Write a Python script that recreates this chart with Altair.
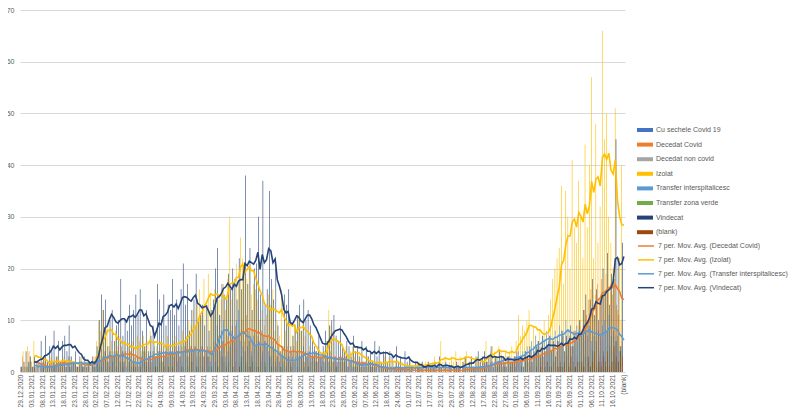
import altair as alt
import pandas as pd

# ---------------- categories ----------------
MISSING = ["15.06.2021", "21.06.2021", "27.06.2021", "29.06.2021", "03.07.2021", "04.07.2021",
           "06.07.2021", "07.07.2021", "09.07.2021", "10.07.2021", "20.07.2021", "26.07.2021",
           "31.07.2021", "02.08.2021", "07.08.2021", "09.08.2021"]
ALL_DAYS = pd.date_range("2020-12-29", "2021-10-20", freq="D").strftime("%d.%m.%Y").tolist()
DATES = [d for d in ALL_DAYS if d not in MISSING] + ["(blank)"]
TICKS = DATES[::5]

SERIES = ["Cu sechele Covid 19", "Decedat Covid", "Decedat non covid", "Izolat",
          "Transfer interspitalicesc", "Transfer zona verde", "Vindecat", "(blank)"]
COLORS = ["#4472C4", "#ED7D31", "#A5A5A5", "#FFC000", "#5B9BD5", "#70AD47", "#264478", "#9E480E"]

MA_SERIES = ["Decedat Covid", "Izolat", "Transfer interspitalicesc", "Vindecat"]
MA_NAMES = ["7 per. Mov. Avg. (Decedat Covid)", "7 per. Mov. Avg. (Izolat)",
            "7 per. Mov. Avg. (Transfer interspitalicesc)", "7 per. Mov. Avg. (Vindecat)"]
MA_COLORS = ["#ED7D31", "#FFC000", "#5B9BD5", "#264478"]
Y_TICKS = [0, 10, 20, 30, 40, 50, 60, 70]

# ---------------- daily values (index 0..279), (blank) category has none ----------------
cu_sechele = [
    0,0,1,0,0,0,0,0,1,0, 0,1,0,0,0,0,1,0,0,0, 0,0,0,1,0,0,0,0,0,1, 0,0,0,0,1,0,2,0,1,0,
    1,0,0,2,0,1,0,0,1,0, 0,2,0,1,0,0,1,0,2,0, 1,0,0,1,0,2,0,1,0,0, 0,1,0,2,0,1,0,0,1,0,
    2,0,1,0,0,1,0,3,0,1, 0,2,1,0,3,0,1,2,0,1, 2,0,1,3,0,2,1,0,2,0, 1,0,2,0,1,0,3,1,0,1,
    0,1,0,0,2,0,1,0,0,1, 0,0,1,0,1,0,0,2,0,0, 1,0,0,0,1,0,0,1,0,0, 0,1,0,0,0,0,1,0,0,0,
    0,0,0,1,0,0,0,0,0,0, 1,0,0,0,0,0,0,1,0,0, 0,0,0,0,0,1,0,0,0,0, 0,0,1,0,0,0,0,0,0,0,
    0,0,0,0,1,0,0,0,0,0, 0,1,0,0,0,0,1,0,0,0, 0,0,1,0,0,1,0,0,1,0, 1,0,0,1,0,2,0,1,0,0,
    1,0,2,0,1,0,1,0,2,1, 0,2,1,0,3,1,0,2,1,0, 2,1,3,0,2,1,4,2,1,3, 2,4,1,3,5,2,3,6,2,4,
]
decedat_covid = [
    1,3,2,1,4, 2,1,1,2,0, 1,2,1,0,2, 1,2,3,1,2, 2,1,2,3,1, 2,1,1,2,1, 1,2,1,2,2, 3,2,3,2,4,
    3,2,4,3,3, 4,3,5,2,4, 3,4,2,3,2, 1,3,2,4,2, 3,2,4,3,3, 4,2,3,5,3, 4,3,5,4,3, 5,4,6,3,5,
    4,5,3,4,5, 3,4,5,3,4, 6,5,7,4,6, 5,7,6,8,6, 9,7,8,10,6, 11,8,7,6,8, 7,6,8,7,6, 7,5,6,4,3,
    5,4,3,4,5, 3,4,5,3,4, 3,4,2,3,3, 2,3,4,2,3, 3,2,3,2,4, 2,3,2,3,2, 2,3,1,2,2, 1,2,2,1,2,
    1,1,2,1,1, 1,0,1,1,0, 1,0,1,0,1, 0,1,0,0,1, 0,0,1,0,0, 1,0,0,1,0, 0,1,0,0,1, 0,0,1,0,0,
    1,0,0,1,0, 0,1,1,0,1, 1,0,1,1,0, 2,1,2,1,2, 2,1,2,2,1, 2,3,1,2,2, 3,2,2,3,2, 3,2,4,3,3,
    4,3,5,3,4, 5,4,6,5,4, 6,5,7,4,6, 7,5,8,6,9, 10,8,12,11,14, 16,13,15,17,14, 18,15,19,16,17,
    15,18,13,11,10,
]
decedat_non_covid = [
    0,1,0,0,1,0,0,1,0,0, 1,0,0,1,0,2,0,0,1,0, 0,1,0,0,2,0,1,0,0,1, 0,0,1,0,1,2,0,1,3,0,
    2,1,0,3,1,0,2,1,4,0, 1,3,0,2,1,0,2,4,1,0, 3,1,2,0,4,1,2,0,3,1, 2,4,0,1,3,2,0,5,1,2,
    3,0,2,4,1,3,0,2,5,1, 2,4,1,3,6,2,0,4,3,1, 5,2,3,1,4,2,6,3,1,2, 4,1,3,5,2,0,3,2,1,4,
    2,1,3,0,2,4,1,2,0,3, 1,2,0,3,1,2,0,1,2,0, 2,1,0,2,1,0,3,1,0,1, 0,2,1,0,1,0,2,0,1,0,
    1,0,0,1,0,2,0,1,0,0, 0,1,0,0,1,0,0,0,1,0, 0,0,1,0,0,0,1,0,0,0, 1,0,0,0,0,1,0,0,0,1,
    0,0,1,0,0,0,1,0,0,0, 1,0,0,1,0,0,2,0,1,0, 0,1,0,2,0,1,0,0,2,1, 0,2,1,0,3,1,0,2,1,0,
    2,1,3,0,2,4,1,2,0,3, 1,3,2,0,4,2,1,5,3,2, 4,2,6,3,1,5,3,7,2,4, 6,3,5,8,2,4,7,3,5,6,
]
izolat = [
    0,4,1,5,3, 2,6,1,2,1, 2,3,1,2,3, 2,1,3,2,2, 3,1,2,2,1, 2,1,2,3,1, 1,2,2,1,3, 6,10,8,12,7,
    9,5,6,4,8, 5,7,4,6,3, 5,4,6,3,7, 6,4,7,5,6, 8,4,6,5,4, 6,5,4,7,5, 4,6,7,5,6, 8,6,7,10,9,
    12,9,14,16,11, 18,13,19,15,12, 16,13,15,14,17, 12,18,30,14,16, 21,17,26,22,19, 18,20,15,17,16,
    14,10,12,9,11, 15,13,16,8,10, 7,16,5,8,9, 10,7,9,6,11, 8,10,7,4,5, 3,2,4,5,3, 3,4,6,12,9,
    8,2,1,2,3, 4,5,3,4,5, 3,2,4,2,1, 2,3,1,2,2, 1,2,2,1,3, 2,3,1,2,2, 1,0,2,1,1, 1,2,1,0,2,
    2,1,1,2,2, 1,2,3,1,2, 6,2,3,1,2, 3,2,4,2,3, 2,3,4,2,3, 1,2,3,2,1, 2,6,3,4,5, 4,3,5,4,3,
    4,3,4,5,3, 6,11,7,9,8, 10,12,6,9,7, 5,8,6,10,7, 11,14,18,20,22, 24,36,17,35,30, 20,41,28,25,37,
    30,22,44,28,40, 57,22,48,25,32, 66,45,50,30,25, 20,51,12,22,40,
]
transfer_inter = [
    1,2,0,1,2, 1,1,2,0,1, 1,0,2,1,1, 2,1,1,2,1, 2,1,3,1,2, 2,1,2,2,1, 2,1,1,2,2, 3,4,2,3,4,
    2,4,3,3,4, 3,2,4,2,1, 2,1,2,1,3, 2,3,4,2,3, 4,3,5,3,4, 3,4,4,3,4, 4,3,4,5,3, 4,5,3,4,5,
    4,5,4,3,5, 3,4,3,2,4, 12,9,11,8,10, 3,4,5,9,6, 10,12,6,5,4, 5,6,4,7,5, 6,5,4,6,5, 4,3,5,2,3,
    2,3,2,1,3, 2,3,2,4,3, 3,5,4,3,4, 3,4,2,4,3, 3,2,3,2,3, 2,3,2,2,3, 2,3,1,2,1, 1,1,2,1,2,
    2,1,2,1,1, 1,1,0,1,1, 1,0,1,1,1, 1,1,0,1,1, 1,1,1,0,1, 1,1,1,1,1, 1,0,1,1,1, 1,1,1,0,1,
    1,1,1,1,1, 1,1,0,1,1, 1,1,1,1,1, 1,2,1,2,2, 2,3,2,2,3, 2,3,3,2,3, 3,4,3,4,4, 5,4,6,5,7,
    6,5,7,6,8, 6,7,5,8,7, 9,8,7,10,8, 5,6,7,9,8, 7,9,8,7,9, 6,7,6,8,7, 9,10,8,11,7, 8,6,7,4,5,
]
transfer_verde = [
    0,0,0,0,0,0,0,0,0,0, 0,0,0,0,0,0,0,0,0,0, 0,0,0,0,0,0,0,0,0,0, 0,0,0,0,0,0,1,0,0,0,
    0,1,0,0,0,0,0,2,0,0, 0,0,1,0,0,0,0,0,1,0, 0,0,0,1,0,0,2,0,0,0, 1,0,0,0,0,1,0,0,0,2,
    0,0,1,0,0,0,0,1,0,0, 0,1,0,0,2,0,0,0,1,0, 0,0,2,0,1,0,0,3,0,0, 1,0,0,2,0,0,1,0,0,0,
    0,1,0,0,0,1,0,0,0,0, 0,0,0,1,0,0,0,0,0,0, 0,0,0,0,0,0,1,0,0,0, 0,0,0,0,0,0,0,0,0,0,
    0,0,0,0,0,0,0,0,0,0, 0,0,0,0,0,0,0,0,0,0, 0,0,0,0,0,0,0,0,0,0, 0,0,0,0,0,0,0,0,0,0,
    0,0,0,0,0,0,0,0,0,0, 0,0,0,0,0,0,0,0,0,0, 0,0,0,0,0,0,0,0,0,0, 0,0,0,0,0,0,0,0,0,0,
    0,0,0,1,0,0,0,0,0,0, 0,0,1,0,0,0,0,1,0,0, 0,1,0,0,0,2,0,0,1,0, 0,0,1,0,0,0,2,0,0,0,
]
vindecat = [
    1,0,4,2,3, 1,3,0,2,6, 3,7,2,5,4, 8,3,6,2,6, 7,4,9,3,2, 4,1,3,2,3, 1,2,0,3,1, 5,10,15,12,14,
    5,10,12,6,9, 10,18,7,10,8, 13,9,12,15,11, 16,8,5,12,4, 7,9,3,17,14, 10,15,9,13,12,
    18,11,14,9,16, 21,13,17,8,12, 14,19,10,11,13, 9,13,8,12,14, 20,24,11,17,15, 14,19,16,20,18,
    14,22,16,19,38, 17,24,12,20,21, 30,15,37,13,16, 35,18,14,20,9, 4,5,15,13,16, 5,7,9,11,13,
    8,14,10,12,9, 6,5,4,7,3, 5,8,6,9,10, 11,7,6,9,5, 4,6,5,3,7, 4,5,3,6,2, 5,3,4,2,6, 3,5,2,4,4,
    2,4,3,1,5, 2,3,1,4,2, 3,1,0,2,1, 1,2,0,1,2, 1,1,2,0,3, 1,0,2,1,1, 0,1,2,1,0, 2,3,1,2,3,
    1,3,4,2,3, 4,2,3,5,1, 3,2,4,3,2, 1,3,2,2,3, 4,2,3,1,4, 3,5,2,4,5, 6,3,7,4,5, 7,4,6,3,6,
    5,8,4,7,6, 9,5,8,6,10, 7,12,15,9,14, 18,11,16,10,14, 20,15,23,13,19, 18,45,22,5,25,
]
blank_status = [
    0,0,0,0,0,0,0,0,0,0, 0,0,0,0,0,0,0,0,0,0, 0,0,0,0,0,0,0,0,0,0, 0,0,0,0,0,0,0,0,0,0,
    0,0,0,0,0,0,0,0,0,0, 0,0,0,0,0,0,0,0,0,0, 0,0,1,0,0,0,0,0,1,0, 0,0,0,0,0,0,0,0,0,0,
    0,0,0,0,0,0,0,0,0,0, 0,0,0,0,0,0,0,0,0,0, 0,1,0,0,0,0,1,0,0,0, 0,0,0,0,0,0,0,0,0,0,
    0,0,0,0,0,0,0,0,0,0, 0,0,0,0,0,0,0,0,0,0, 0,0,0,0,0,0,0,0,0,0, 0,0,0,0,0,0,0,0,0,0,
    0,0,0,0,0,0,0,0,0,0, 0,0,0,0,0,0,0,0,0,0, 0,0,0,0,0,0,0,0,0,0, 0,0,0,0,0,0,0,0,0,0,
    0,0,0,0,0,0,0,0,0,0, 0,0,0,0,0,0,0,0,0,0, 0,0,0,0,0,0,0,0,0,0, 0,0,0,0,0,0,0,0,0,0,
    0,1,0,0,2,0,1,0,0,1, 1,0,2,0,1,3,0,1,2,0, 2,1,0,3,1,2,4,0,2,1, 3,2,4,1,2,5,3,2,4,3,
]

SERIES_VALUES = [cu_sechele, decedat_covid, decedat_non_covid, izolat,
                 transfer_inter, transfer_verde, vindecat, blank_status]

assert len(DATES) == 281
rows = []
for name, vals in zip(SERIES, SERIES_VALUES):
    assert len(vals) == 280, (name, len(vals))
    for i, v in enumerate(list(vals) + [None]):
        rows.append({"idx": i, "date": DATES[i], "series": name, "value": v})
df = pd.DataFrame(rows)

FONT = "Liberation Sans"
GREY = "#595959"

x_enc = alt.X("date:N",
              scale=alt.Scale(domain=DATES, paddingInner=0, paddingOuter=0),
              axis=alt.Axis(values=TICKS, labelAngle=-90, labelFontSize=6.6, labelColor=GREY,
                            labelFont=FONT, ticks=False, domain=False,
                            labelPadding=2, grid=False, labelOverlap=False),
              title=None)
y_axis = alt.Axis(values=Y_TICKS, grid=True, gridColor="#D9D9D9", gridWidth=1,
                  domain=False, ticks=False, labelFontSize=7, labelColor=GREY,
                  labelFont=FONT, labelPadding=6, title=None)
y_scale = alt.Scale(domain=[0, 70], nice=False)

bars = alt.Chart(df).mark_bar(width=0.6).encode(
    x=x_enc,
    xOffset=alt.XOffset("series:N", scale=alt.Scale(domain=SERIES, paddingInner=0, paddingOuter=0)),
    y=alt.Y("value:Q", scale=y_scale, axis=y_axis),
    color=alt.Color("series:N",
                    scale=alt.Scale(domain=SERIES, range=COLORS),
                    legend=alt.Legend(title=None, orient="none", legendX=617, legendY=112,
                                      symbolType="M-1,-0.25H1V0.25H-1Z", symbolSize=256,
                                      symbolStrokeWidth=0, labelFontSize=7, labelColor=GREY,
                                      labelFont=FONT, labelOffset=3, padding=0, rowPadding=3.6)),
)

lines = alt.Chart(df).transform_filter(
    alt.FieldOneOfPredicate(field="series", oneOf=MA_SERIES)
).transform_window(
    ma="mean(value)", frame=[-6, 0], groupby=["series"], sort=[alt.SortField("idx")]
).transform_filter(
    "datum.idx >= 6"
).transform_calculate(
    ma_name="'7 per. Mov. Avg. (' + datum.series + ')'"
).mark_line(strokeWidth=1.6).encode(
    x=x_enc,
    y=alt.Y("ma:Q", scale=y_scale, axis=y_axis),
    stroke=alt.Stroke("ma_name:N",
                      scale=alt.Scale(domain=MA_NAMES, range=MA_COLORS),
                      legend=alt.Legend(title=None, orient="none", legendX=617, legendY=227,
                                        symbolType="stroke", symbolSize=256, symbolStrokeWidth=1.5,
                                        labelFontSize=7, labelColor=GREY, labelFont=FONT,
                                        labelOffset=3, padding=0, rowPadding=1.9)),
    detail="series:N",
)

chart = alt.layer(bars, lines).properties(
    width=605, height=362,
    autosize=alt.AutoSizeParams(type="none"),
    padding={"left": 12, "top": 2, "right": 165, "bottom": 36},
    background="white",
).configure_view(stroke=None)

chart.save("out.html", embed_options={"renderer": "svg", "actions": False})
